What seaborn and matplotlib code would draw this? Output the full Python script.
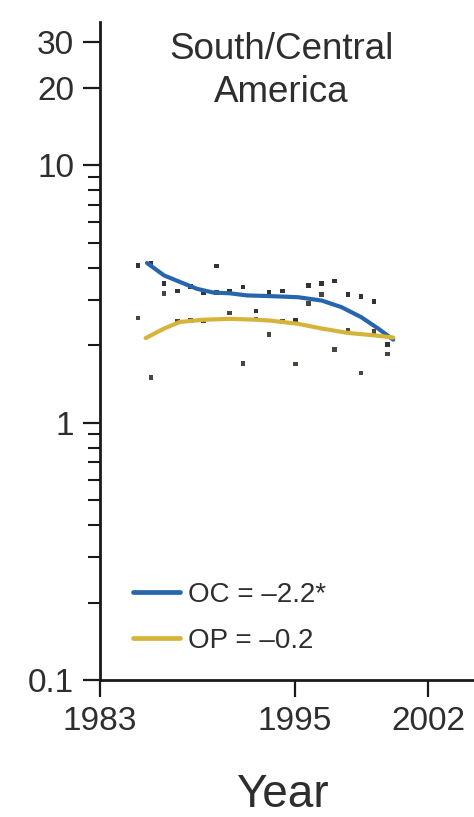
import numpy as np
import pandas as pd
import matplotlib
matplotlib.use("Agg")
import matplotlib.pyplot as plt
import seaborn as sns
from matplotlib.ticker import FixedLocator, FixedFormatter, NullFormatter

# ---- data ----
years = list(range(1983, 2003))
oc_values = [4.08, 4.16, 3.47, 3.24, 3.38, 3.20, 4.06, 3.24, 3.36, 2.71,
             3.21, 3.24, 2.49, 3.41, 3.48, 3.55, 3.14, 3.09, 2.96, 2.01]
op_values = [2.55, 1.50, 3.17, 2.47, 2.49, 2.49, 3.20, 2.67, 1.70, 2.53,
             2.20, 2.47, 1.69, 2.90, 3.14, 1.92, 2.28, 1.56, 2.26, 1.85]

oc_trend_years = [1983.7, 1985.0, 1986.2, 1987.5, 1988.75, 1990.0, 1991.3,
                  1993.1, 1995.2, 1997.0, 1998.5, 2000.0, 2001.3, 2002.45]
oc_trend = [4.17, 3.73, 3.52, 3.31, 3.20, 3.18, 3.12,
            3.10, 3.07, 2.98, 2.81, 2.57, 2.32, 2.10]
op_trend_years = [1983.6, 1985.0, 1986.2, 1988.0, 1990.0, 1992.0, 1993.1,
                  1995.2, 1997.0, 1999.0, 2001.1, 2002.45]
op_trend = [2.13, 2.32, 2.46, 2.51, 2.53, 2.51, 2.49,
            2.42, 2.32, 2.23, 2.18, 2.14]

series_labels = ["OC = \u20132.2*", "OP = \u20130.2"]
title_text = "South/Central\nAmerica"
x_tick_pos = [1980.13, 1994.97, 2005.09]
x_tick_labels = ["1983", "1995", "2002"]
y_tick_pos = [0.1, 1, 10, 20, 30]
y_tick_labels = ["0.1", "1", "10", "20", "30"]

# ---- styling ----
sns.set_style("ticks")
plt.rcParams["font.family"] = ["Liberation Sans", "DejaVu Sans"]
text_color = "#2e2e2e"
blue = "#2766ad"
gold = "#d6b43a"

fig = plt.figure(figsize=(4.74, 8.17), dpi=100)
ax = fig.add_axes([100 / 474, 1 - 680 / 817, 1 - 100 / 474, (680 - 21.7) / 817])

pts = pd.DataFrame({"year": years * 2,
                    "value": oc_values + op_values,
                    "series": ["OC"] * len(years) + ["OP"] * len(years)})
sns.scatterplot(data=pts, x="year", y="value", hue="series",
                palette={"OC": "#30333b", "OP": "#48483a"}, marker="s",
                s=11, linewidth=0, legend=False, ax=ax, zorder=2)

oc_df = pd.DataFrame({"year": oc_trend_years, "value": oc_trend})
op_df = pd.DataFrame({"year": op_trend_years, "value": op_trend})
sns.lineplot(data=oc_df, x="year", y="value", color=blue, linewidth=3.0,
             label=series_labels[0], ax=ax, zorder=3)
sns.lineplot(data=op_df, x="year", y="value", color=gold, linewidth=3.0,
             label=series_labels[1], ax=ax, zorder=3)

ax.set_yscale("log")
ax.set_ylim(0.1, 36.1)
ax.set_xlim(1980.12, 2008.6)

ax.xaxis.set_major_locator(FixedLocator(x_tick_pos))
ax.xaxis.set_major_formatter(FixedFormatter(x_tick_labels))
ax.yaxis.set_major_locator(FixedLocator(y_tick_pos))
ax.yaxis.set_major_formatter(FixedFormatter(y_tick_labels))
minor = [m * 10.0 ** e for e in (-1, 0) for m in range(2, 10)]
ax.yaxis.set_minor_locator(FixedLocator(minor))
ax.yaxis.set_minor_formatter(NullFormatter())

for s in ["top", "right"]:
    ax.spines[s].set_visible(False)
for s in ["left", "bottom"]:
    ax.spines[s].set_linewidth(2.0)
    ax.spines[s].set_color("#1a1a1a")

ax.tick_params(axis="both", which="major", direction="out", length=12.5,
               width=1.6, color="#1a1a1a", labelsize=24, labelcolor=text_color,
               pad=6)
ax.tick_params(axis="y", which="minor", direction="out", length=8.5,
               width=1.5, color="#1a1a1a")

ax.set_xlabel("Year", fontsize=33, color=text_color)
ax.xaxis.set_label_coords(0.488, -0.142)
ax.set_ylabel("")

ax.text(0.484, 0.985, title_text, transform=ax.transAxes, ha="center",
        va="top", fontsize=26.5, color=text_color, linespacing=1.3)

leg = ax.legend(loc="upper left", bbox_to_anchor=(0.088, 0.1495), frameon=False,
                fontsize=20, handlelength=1.7, handletextpad=0.3,
                labelspacing=0.73, borderpad=0, borderaxespad=0)
for t in leg.get_texts():
    t.set_color(text_color)
for h in leg.get_lines():
    h.set_linewidth(3.4)

fig.savefig("out.png", dpi=100)
